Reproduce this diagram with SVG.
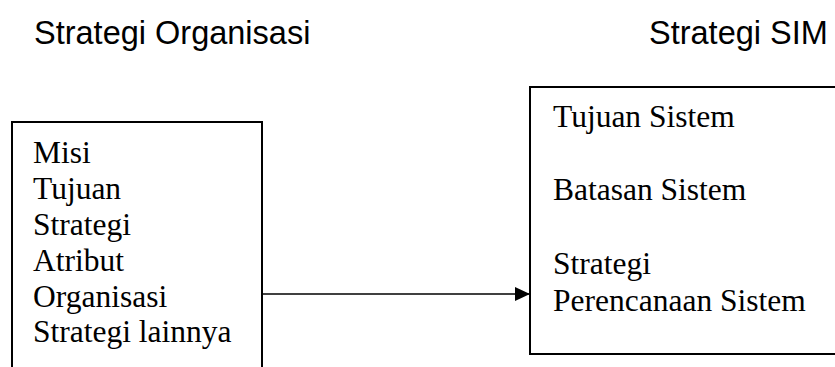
<svg xmlns="http://www.w3.org/2000/svg" width="835" height="367" viewBox="0 0 835 367">
<style>
.title{font-family:"Liberation Sans",Arial,sans-serif;font-size:32.5px;fill:#000}
.body{font-family:"Liberation Serif","Times New Roman",serif;font-size:31.5px;fill:#000}
.box{fill:#fff;stroke:#000;stroke-width:2}
.conn{stroke:#000;stroke-width:1.5;fill:none}
</style>
<defs>
<marker id="arrow" markerUnits="userSpaceOnUse" markerWidth="15" markerHeight="14" refX="15" refY="7" orient="auto">
<path d="M0,0 L15,7 L0,14 Z" fill="#000"/>
</marker>
</defs>
<rect width="835" height="367" fill="#fff"/>
<text class="title" x="34" y="44">Strategi Organisasi</text>
<text class="title" x="649" y="44">Strategi SIM</text>
<g id="node-organisasi">
<rect class="box" x="12" y="122" width="250" height="260"/>
<text class="body" x="33" y="163">Misi</text>
<text class="body" x="33" y="199">Tujuan</text>
<text class="body" x="33" y="235">Strategi</text>
<text class="body" x="33" y="271">Atribut</text>
<text class="body" x="33" y="307">Organisasi</text>
<text class="body" x="33" y="342">Strategi lainnya</text>
</g>
<g id="node-sim">
<rect class="box" x="530" y="87" width="320" height="267"/>
<text class="body" x="553" y="127">Tujuan Sistem</text>
<text class="body" x="553" y="200">Batasan Sistem</text>
<text class="body" x="553" y="274">Strategi</text>
<text class="body" x="553" y="311">Perencanaan Sistem</text>
</g>
<g id="connectors">
<line class="conn" x1="262" y1="294" x2="530" y2="294" marker-end="url(#arrow)"/>
</g>
</svg>
